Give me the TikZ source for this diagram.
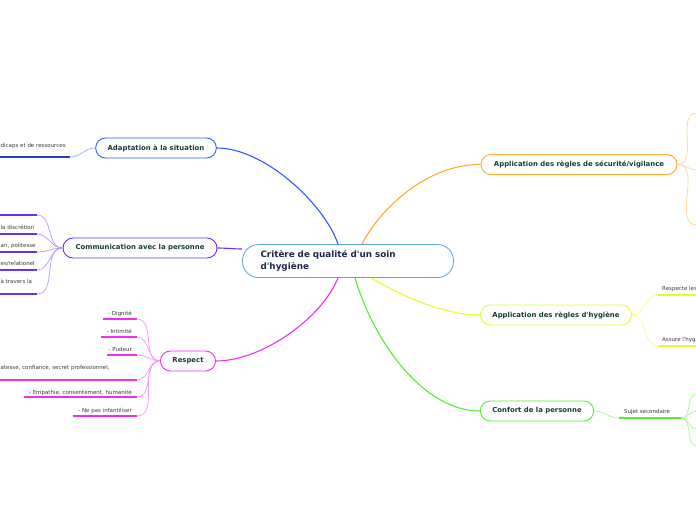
\documentclass[tikz,border=0pt]{standalone}
\usepackage{fontspec}
\setmainfont{DejaVu Sans}[Ligatures=TeXOff]
\usepackage{tikz}
\definecolor{ink}{HTML}{1B2A4A}
\definecolor{topicgreen}{HTML}{123F33}
\definecolor{subgray}{HTML}{3A3A3A}
\definecolor{rootC}{HTML}{5BA4DA}
\definecolor{adaptC}{HTML}{2E5BFF}
\definecolor{adaptD}{HTML}{2340B8}
\definecolor{commC}{HTML}{6B2FEF}
\definecolor{respC}{HTML}{EE2FEE}
\definecolor{secuC}{HTML}{FFAA2E}
\definecolor{hygC}{HTML}{DDFF2E}
\definecolor{confC}{HTML}{55EE2E}
\tikzset{
  topic/.style={draw=#1,line width=0.9pt,fill=white,rounded corners=10pt,
    minimum height=20pt,inner xsep=12pt,text=topicgreen,
    font=\fontsize{6.9}{8}\selectfont\bfseries},
  sublabel/.style={text=subgray,inner sep=0pt},
  subline/.style={#1,line width=1.5pt},
  twig/.style={#1!50,line width=0.7pt},
  branch/.style={#1,line width=1.1pt}
}

\begin{document}
\begin{tikzpicture}[x=1pt,y=-1pt,font=\fontsize{5.5}{6.6}\selectfont]
  \useasboundingbox (0,0) rectangle (696,520);
  \def\leftend{137}
  \def\rightedge{697}

  % Central topic and the six main topics.
  \node[draw=rootC,line width=0.8pt,fill=white,rounded corners=16pt,
        minimum height=33pt,text width=175pt,inner xsep=18pt,align=left,
        font=\fontsize{8.8}{11.5}\selectfont\bfseries,text=ink]
    (root) at (348,261) {Critère de qualité d'un soin\\d'hygiène};
  \node[topic=adaptC,minimum width=120pt] (adapt) at (156,148) {Adaptation à la situation};
  \node[topic=commC,minimum width=154pt] (comm) at (140,248) {Communication avec la personne};
  \node[topic=respC,minimum width=54pt] (resp) at (188,361) {Respect};
  \node[topic=secuC,minimum width=196pt] (secu) at (579,164.5) {Application des règles de sécurité/vigilance};
  \node[topic=hygC,minimum width=150pt] (hyg) at (556,315) {Application des règles d'hygiène};
  \node[topic=confC,minimum width=112pt] (conf) at (537,411) {Confort de la personne};

  % Main branches, leaving the central topic at its top, side and bottom.
  \draw[branch=adaptC] ([xshift=-10pt]root.north) .. controls (325,205) and (265,148) .. (adapt.east);
  \draw[branch=commC] ([yshift=12pt]root.west) .. controls (235,249) and (225,248) .. (comm.east);
  \draw[branch=respC] ([xshift=-10pt]root.south) .. controls (322,318) and (262,361) .. (resp.east);
  \draw[branch=secuC] ([xshift=14pt]root.north) .. controls (378,212) and (425,164) .. (secu.west);
  \draw[branch=hygC] ([xshift=23pt]root.south) .. controls (395,292) and (440,315) .. (hyg.west);
  \draw[branch=confC] ([xshift=7pt]root.south) .. controls (375,345) and (425,411) .. (conf.west);

  % Adaptation: one subtopic, its text starts at the left edge.
  \node[sublabel,anchor=base west] (adapt-t1) at (0.5,147) {dicaps et de ressources};
  \coordinate (adapt-a1) at (-1,157);
  \coordinate (adapt-b1) at (70,157);
  \draw[subline=adaptD] (adapt-a1) -- (adapt-b1);
  \draw[twig=adaptC] (adapt-b1) to[out=0,in=180] (adapt.west);

  % Communication subtopics (the top one shows no text).
  \coordinate (comm-a0) at (-1,215);
  \coordinate (comm-b0) at (37,215);
  \draw[subline=commC] (comm-a0) -- (comm-b0);
  \draw[twig=commC] (comm-b0) to[out=0,in=180] (comm.west);
  \foreach \i/\yy/\yt/\lab in {1/234/229/{la discrétion},2/252/247/{an, politesse},
    3/270/265/{es/relationel},4/294/283/{à travers la}}{
    \coordinate (comm-a\i) at (-1,\yy);
    \coordinate (comm-b\i) at (37,\yy);
    \draw[subline=commC] (comm-a\i) -- (comm-b\i);
    \draw[twig=commC] (comm-b\i) to[out=0,in=180] (comm.west);
    \node[sublabel,anchor=base west] (comm-t\i) at (0.5,\yt) {\lab};
  }

  % Respect subtopics.
  \foreach \i/\yy/\xa/\yt/\xt/\lab in {1/319/103/315/132/{- Dignité},2/337/101/333/132/{- Intimité},
    3/355/107/351/132/{- Pudeur},5/397/24/394/132/{- Empathie, consentement, humanité},
    6/416/73/412/132/{- Ne pas infantiliser}}{
    \coordinate (resp-a\i) at (\xa,\yy);
    \coordinate (resp-b\i) at (\leftend,\yy);
    \draw[subline=respC] (resp-a\i) -- (resp-b\i);
    \draw[twig=respC] (resp-b\i) to[out=0,in=180] (resp.west);
    \node[sublabel,anchor=base east] (resp-t\i) at (\xt,\yt) {\lab};
  }
  \coordinate (resp-a4) at (-1,380);
  \coordinate (resp-b4) at (\leftend,380);
  \draw[subline=respC] (resp-a4) -- (resp-b4);
  \draw[twig=respC] (resp-b4) to[out=0,in=180] (resp.west);
  \node[sublabel,anchor=base west] (resp-t4) at (0.5,369) {atesse, confiance, secret professionnel,};

  % Security: three subtopics beyond the right edge.
  \foreach \i/\yy in {1/113,2/170,3/225}{
    \coordinate (secu-b\i) at (\rightedge,\yy);
    \draw[twig=secuC] (secu.east) to[out=0,in=180] (secu-b\i);
  }

  % Hygiene subtopics.
  \foreach \i/\yy/\yt/\lab in {1/295/290/{Respecte les},2/346/341/{Assure l'hygi}}{
    \coordinate (hyg-a\i) at (658,\yy);
    \coordinate (hyg-b\i) at (\rightedge,\yy);
    \draw[twig=hygC] (hyg.east) to[out=0,in=180] (hyg-a\i);
    \draw[subline=hygC] (hyg-a\i) -- (hyg-b\i);
    \node[sublabel,anchor=base west] (hyg-t\i) at (662,\yt) {\lab};
  }

  % Comfort: one subtopic, then four more off the page.
  \coordinate (conf-a1) at (619,418);
  \coordinate (conf-b1) at (681,418);
  \draw[twig=confC] (conf.east) to[out=0,in=180] (conf-a1);
  \draw[subline=confC] (conf-a1) -- (conf-b1);
  \node[sublabel,anchor=base] (conf-t1) at (647,413) {Sujet secondaire};
  \foreach \i/\yy in {1/394,2/411,3/429,4/446}{
    \coordinate (conf-c\i) at (\rightedge,\yy);
    \draw[twig=confC] (conf-b1) to[out=0,in=180] (conf-c\i);
  }
\end{tikzpicture}
\end{document}
